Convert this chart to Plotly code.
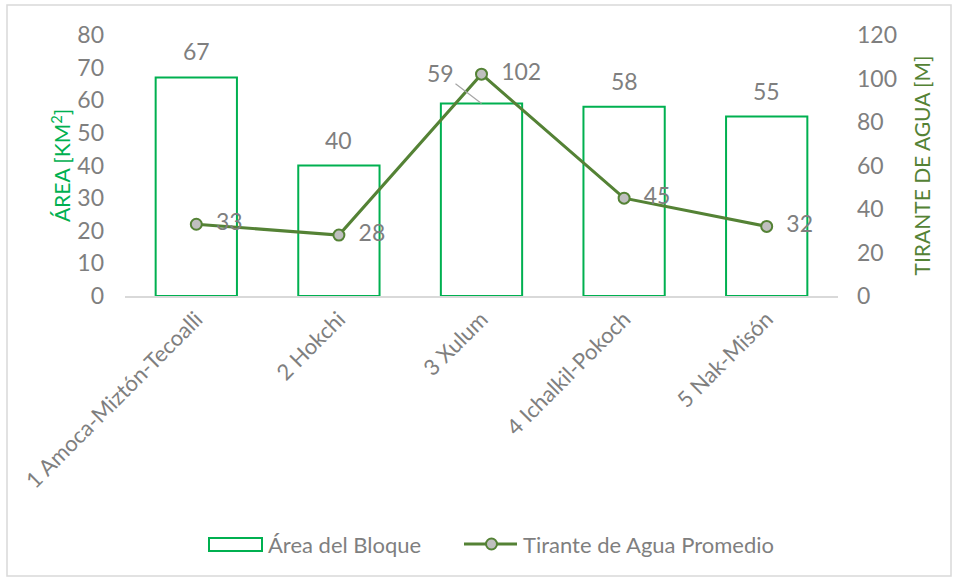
import plotly.graph_objects as go

categories = ["1 Amoca-Miztón-Tecoalli", "2 Hokchi", "3 Xulum", "4 Ichalkil-Pokoch", "5 Nak-Misón"]
area = [67, 40, 59, 58, 55]
tirante = [33, 28, 102, 45, 32]
left_ticks = [0, 10, 20, 30, 40, 50, 60, 70, 80]
right_ticks = [0, 20, 40, 60, 80, 100, 120]
series_names = ["Área del Bloque", "Tirante de Agua Promedio"]

FONT = "Lato"
GRAY = "#7F7F7F"
GREEN_BAR = "#00B050"
GREEN_LINE = "#548235"
MARKER_FILL = "#BFBFBF"

fig = go.Figure()
fig.add_trace(go.Bar(
    x=categories, y=area, name=series_names[0],
    marker=dict(color="white", line=dict(color=GREEN_BAR, width=2)),
    width=0.57, yaxis="y", showlegend=False,
))
fig.add_trace(go.Scatter(
    x=categories, y=tirante, name=series_names[1],
    mode="lines+markers+text", yaxis="y2", showlegend=False,
    line=dict(color=GREEN_LINE, width=3),
    marker=dict(color=MARKER_FILL, size=11, line=dict(color=GREEN_LINE, width=2)),
    text=["\u00a0\u00a0" + str(v) for v in tirante], textposition="middle right",
    textfont=dict(family=FONT, size=23, color=GRAY),
))

W, H = 958, 580
L, R, T, B = 125, 120, 35, 284
pw, ph = W - L - R, H - T - B

def px2x(p):
    return (p - L) / pw

def px2y(p):
    return (H - B - p) / ph

annotations = []
for i, (c, v) in enumerate(zip(categories, area)):
    if i == 2:
        annotations.append(dict(x=c, y=v, xref="x", yref="y", text=str(v),
                                showarrow=True, arrowhead=0, arrowwidth=1.2,
                                arrowcolor="#A6A6A6", ax=-41, ay=-31,
                                font=dict(family=FONT, size=23, color=GRAY)))
    else:
        annotations.append(dict(x=c, y=v, xref="x", yref="y", text=str(v),
                                showarrow=False, yshift=26,
                                font=dict(family=FONT, size=23, color=GRAY)))

# custom legend
leg_y = px2y(544)
annotations.append(dict(x=px2x(266), y=leg_y, xref="paper", yref="paper", text=series_names[0],
                        showarrow=False, xanchor="left", yanchor="middle",
                        font=dict(family=FONT, size=22, color=GRAY)))
annotations.append(dict(x=px2x(521), y=leg_y, xref="paper", yref="paper", text=series_names[1],
                        showarrow=False, xanchor="left", yanchor="middle",
                        font=dict(family=FONT, size=22, color=GRAY)))

shapes = [
    dict(type="rect", xref="paper", yref="paper",
         x0=px2x(7), x1=px2x(951), y0=px2y(576), y1=px2y(5),
         line=dict(color="#D9D9D9", width=1.5), fillcolor="rgba(0,0,0,0)", layer="below"),
    dict(type="rect", xref="paper", yref="paper",
         x0=px2x(209), x1=px2x(262), y0=px2y(551), y1=px2y(538),
         line=dict(color=GREEN_BAR, width=2), fillcolor="white"),
    dict(type="line", xref="paper", yref="paper",
         x0=px2x(464), x1=px2x(517), y0=leg_y, y1=leg_y,
         line=dict(color=GREEN_LINE, width=3)),
    dict(type="circle", xref="paper", yref="paper",
         x0=px2x(486), x1=px2x(497), y0=px2y(549.5), y1=px2y(538.5),
         line=dict(color=GREEN_LINE, width=2), fillcolor=MARKER_FILL),
]

fig.update_layout(
    width=W, height=H,
    margin=dict(l=L, r=R, t=T, b=B, autoexpand=False),
    paper_bgcolor="white", plot_bgcolor="white",
    font=dict(family=FONT, size=21, color=GRAY),
    showlegend=False,
    xaxis=dict(type="category", tickangle=-45, showgrid=False, showline=True,
               linecolor="#D9D9D9", linewidth=1.5, ticks="", automargin=False,
               tickfont=dict(family=FONT, size=22, color=GRAY), zeroline=False),
    yaxis=dict(range=[0, 80], tickvals=left_ticks, showgrid=False, zeroline=False,
               showline=False, ticks="", automargin=False, ticklabelstandoff=20,
               tickfont=dict(family=FONT, size=23, color=GRAY),
               title=dict(text="ÁREA [KM<sup>2</sup>]", font=dict(family=FONT, size=21, color=GREEN_BAR),
                          standoff=0)),
    yaxis2=dict(range=[0, 120], tickvals=right_ticks, overlaying="y", side="right",
                showgrid=False, zeroline=False, showline=False, ticks="", automargin=False,
                ticklabelstandoff=18,
                tickfont=dict(family=FONT, size=23, color=GRAY),
                title=dict(text="TIRANTE DE AGUA [M]", font=dict(family=FONT, size=21, color=GREEN_LINE),
                           standoff=19)),
    annotations=annotations,
    shapes=shapes,
)

fig.write_html("out.html", config={"displayModeBar": False},
               post_script="document.body.style.margin='0';")
